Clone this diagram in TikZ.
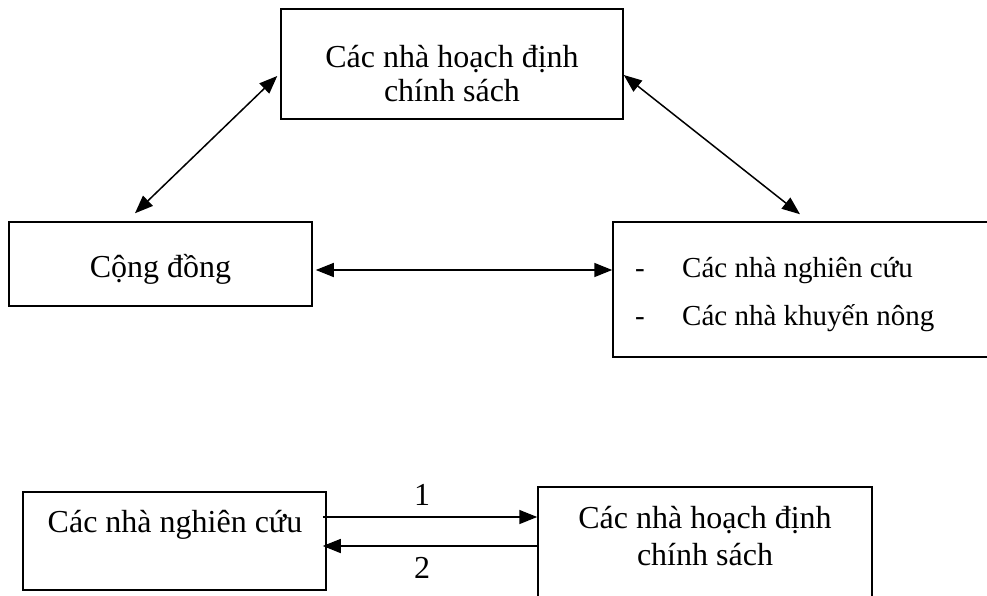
\documentclass[tikz,border=0pt]{standalone}
\usepackage{fontspec}
\setmainfont{Liberation Serif}
\usetikzlibrary{arrows.meta,calc}
\tikzset{
  box/.style={draw, line width=1.5pt, rectangle, inner sep=0pt},
  txt/.style={inner sep=0pt, anchor=base, font=\fontsize{32}{36}\selectfont},
  smalltxt/.style={inner sep=0pt, font=\fontsize{29}{33}\selectfont},
  conn/.style={line width=1.5pt, -{Triangle[length=18pt,width=14pt]}},
  biconn/.style={line width=1.5pt, {Triangle[length=18pt,width=14pt]}-{Triangle[length=18pt,width=14pt]}}
}
\begin{document}
\begin{tikzpicture}[x=1pt,y=-1pt]
\useasboundingbox (0,0) rectangle (987,596);
\clip (0,0) rectangle (987,596);
\fill[white] (0,0) rectangle (987,596);
% boxes
\node[box, minimum width=342pt, minimum height=110pt] (pol) at (452,64) {};
\node[box, minimum width=303pt, minimum height=84pt] (cd) at (160.5,264) {};
\node[box, minimum width=380pt, minimum height=135pt] (res) at (803,289.5) {};
\node[box, minimum width=303pt, minimum height=98pt] (bl) at (174.5,541) {};
\node[box, minimum width=334pt, minimum height=116pt] (br) at (705,545) {};
% texts
\node[txt] (polA) at (452,68) {Các nhà hoạch định};
\node[txt] (polB) at (452,102) {chính sách};
\node[txt] (cdA) at (160.5,277) {Cộng đồng};
\node[smalltxt, anchor=base] (d1) at (640,277) {-};
\node[smalltxt, anchor=base west] (resA) at (682,277) {Các nhà nghiên cứu};
\node[smalltxt, anchor=base] (d2) at (640,325) {-};
\node[smalltxt, anchor=base west] (resB) at (682,325) {Các nhà khuyến nông};
\node[txt] (blA) at (175,532) {Các nhà nghiên cứu};
\node[txt] (brA) at (705,528) {Các nhà hoạch định};
\node[txt] (brB) at (705,565) {chính sách};
\node[txt] (l1) at (422,505) {1};
\node[txt] (l2) at (422,578) {2};
% connectors
\coordinate (p1) at ($(pol.west)+(-3,12)$);
\coordinate (c1) at ($(cd.north)+(-25.5,-8)$);
\draw[biconn] (p1) -- (c1);
\coordinate (p2) at ($(pol.east)+(0,11)$);
\coordinate (r2) at ($(res.north)+(-3,-7)$);
\draw[biconn] (p2) -- (r2);
\coordinate (m1) at ($(cd.east)+(3,6)$);
\draw[biconn] (m1) -- (m1 -| res.west);
\coordinate (b1) at ($(bl.east)+(-4,-24)$);
\draw[conn] (b1) -- (b1 -| br.west);
\coordinate (b2) at ($(br.west)+(0,1)$);
\coordinate (b2e) at ($(bl.east)+(-4,5)$);
\draw[conn] (b2) -- (b2 -| b2e);
\end{tikzpicture}
\end{document}
